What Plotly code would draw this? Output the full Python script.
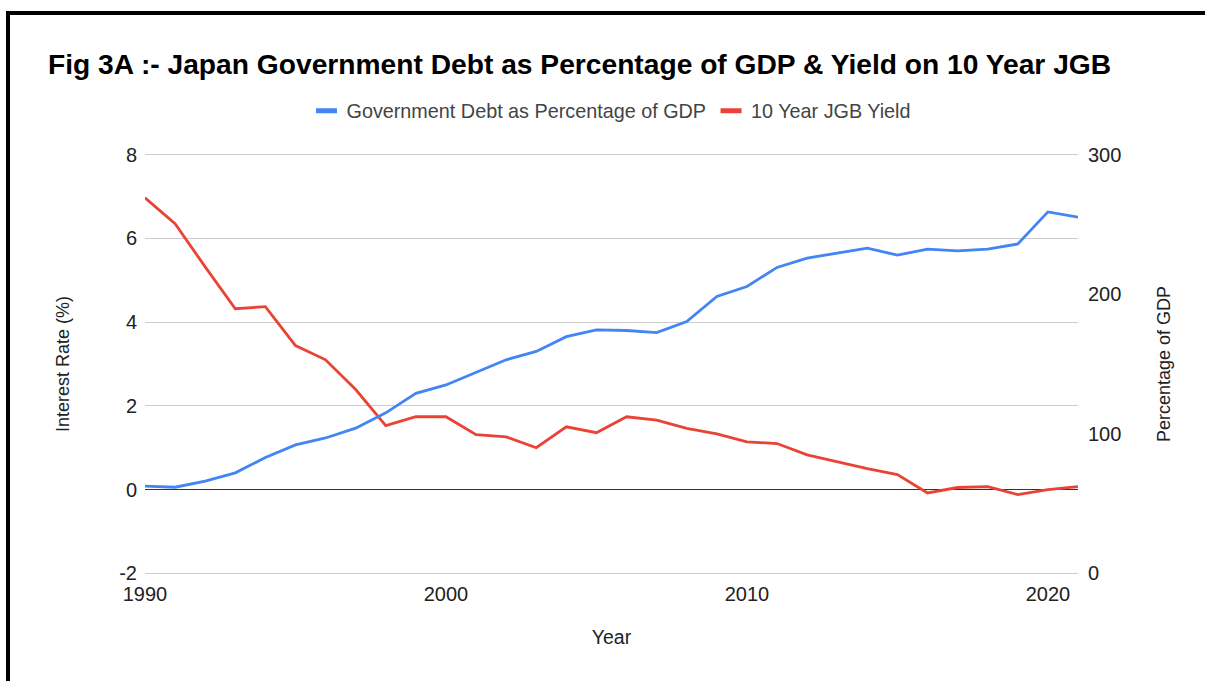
import plotly.graph_objects as go

years = list(range(1990, 2022))
debt_pct_gdp = [62.5, 61.7, 66, 72, 83, 92, 97, 104, 115, 129, 135, 144, 153, 159,
                169.6, 174.4, 174, 172.5, 180.4, 198.4, 205.5, 219.2, 225.9, 229.5,
                233, 228, 232.3, 231, 232.3, 236, 259, 255.3]
jgb_yield = [6.97, 6.35, 5.32, 4.32, 4.37, 3.44, 3.1, 2.39, 1.53, 1.74, 1.74, 1.31,
             1.26, 1.0, 1.5, 1.36, 1.74, 1.66, 1.46, 1.33, 1.14, 1.1, 0.83, 0.67,
             0.5, 0.36, -0.08, 0.05, 0.07, -0.12, 0.0, 0.07]
x_ticks = [1990, 2000, 2010, 2020]
left_ticks = [-2, 0, 2, 4, 6, 8]
left_tick_text = ["-2", "0", "2", "4", "6", "8"]
right_ticks = [0, 100, 200, 300]

DEBT_NAME = "Government Debt as Percentage of GDP"
YIELD_NAME = "10 Year JGB Yield"
BLUE = "#4285F4"
RED = "#EA4335"

FONT = "Arial, Liberation Sans, sans-serif"
TICK_FONT = dict(size=20, color="#222222")
AXIS_TITLE_FONT = dict(size=18, color="#222222")

# small padding so the gridlines at the range ends are drawn
PAD = 0.04
left_range = [-2 - PAD, 8 + PAD]
right_range = [(v + 2) * 30 for v in left_range]

fig = go.Figure()
fig.add_trace(go.Scatter(x=years, y=debt_pct_gdp, name=DEBT_NAME, legendgroup="debt",
                         showlegend=False, mode="lines",
                         line=dict(color=BLUE, width=2.8), yaxis="y2"))
fig.add_trace(go.Scatter(x=years, y=jgb_yield, name=YIELD_NAME, legendgroup="yield",
                         showlegend=False, mode="lines",
                         line=dict(color=RED, width=2.8), yaxis="y"))
# legend entries drawn as short thick dashes
fig.add_trace(go.Scatter(x=[None], y=[None], name=DEBT_NAME, legendgroup="debt", mode="markers",
                         marker=dict(symbol="line-ew", size=15, color=BLUE,
                                     line=dict(color=BLUE, width=5))))
fig.add_trace(go.Scatter(x=[None], y=[None], name=YIELD_NAME, legendgroup="yield", mode="markers",
                         marker=dict(symbol="line-ew", size=15, color=RED,
                                     line=dict(color=RED, width=5))))

fig.update_layout(
    width=1205, height=681,
    margin=dict(l=145, r=127, t=153, b=106),
    paper_bgcolor="white", plot_bgcolor="white",
    font=dict(family=FONT, size=18, color="#444444"),
    title=dict(text="<b>Fig 3A :- Japan Government Debt as Percentage of GDP & Yield on 10 Year JGB</b>",
               x=48 / 1205, xanchor="left", y=1 - 64 / 681, yanchor="middle",
               font=dict(family=FONT, size=28.2, color="#000000")),
    legend=dict(orientation="h", x=0.5, xanchor="center", y=1.10, yanchor="middle",
                font=dict(size=19.8, color="#444444"), bgcolor="rgba(0,0,0,0)",
                itemclick=False, itemdoubleclick=False),
    xaxis=dict(range=[1990, 2021], tickvals=x_ticks, showgrid=False, zeroline=False,
               showline=False, ticks="", tickfont=TICK_FONT, ticklabelstandoff=5,
               title=dict(text="Year", standoff=26, font=dict(size=19.5, color="#222222"))),
    yaxis=dict(range=left_range, tickvals=left_ticks, ticktext=left_tick_text,
               showgrid=True, gridcolor="#cccccc",
               gridwidth=1, zeroline=True, zerolinecolor="#333333", zerolinewidth=1,
               ticks="", tickfont=TICK_FONT, ticklabelstandoff=7,
               title=dict(text="Interest Rate (%)", standoff=44, font=AXIS_TITLE_FONT)),
    yaxis2=dict(range=right_range, tickvals=right_ticks, overlaying="y", side="right",
                showgrid=False, zeroline=False, ticks="", tickfont=TICK_FONT,
                ticklabelstandoff=9,
                title=dict(text="Percentage of GDP", standoff=37, font=AXIS_TITLE_FONT)),
    shapes=[dict(type="rect", xref="paper", yref="paper",
                 x0=(8 - 145) / 933, x1=(1230 - 145) / 933,
                 y0=(575 - 700) / 422, y1=(575 - 13) / 422,
                 line=dict(color="black", width=4), fillcolor="rgba(0,0,0,0)", layer="below")],
)

fig.write_html("out.html", config={"displayModeBar": False},
               post_script="document.body.style.margin='0';document.body.style.overflow='hidden';")
